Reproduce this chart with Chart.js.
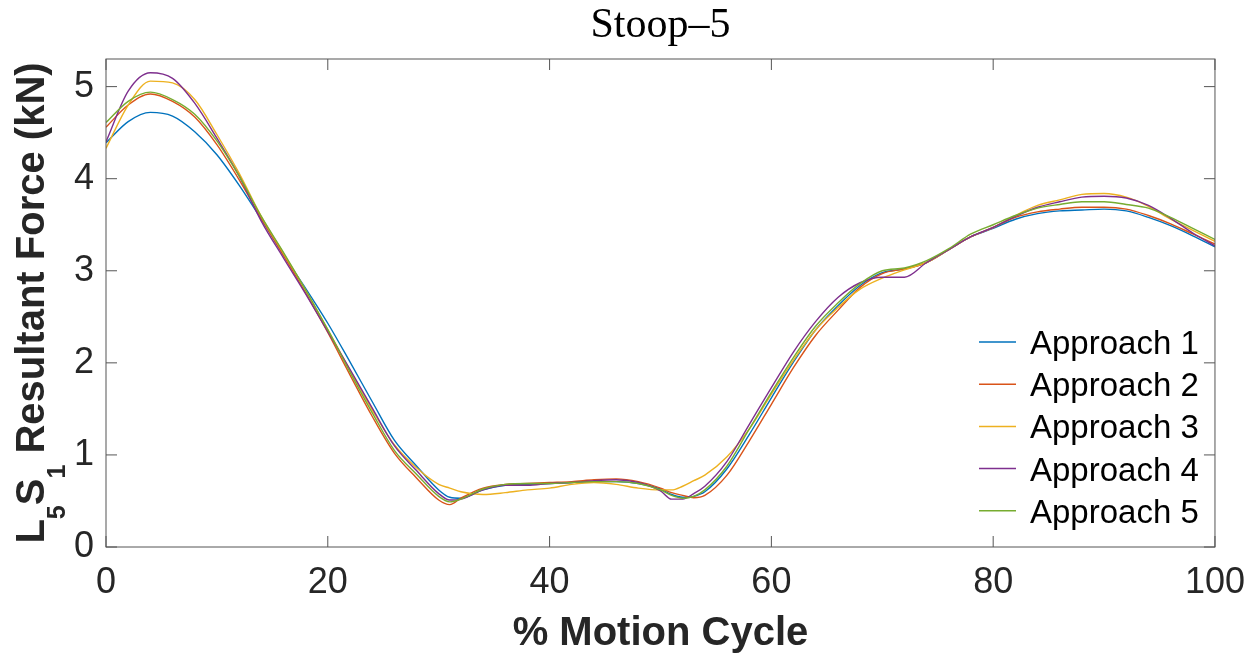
<!DOCTYPE html>
<html>
<head>
<meta charset="utf-8">
<script src="https://cdn.jsdelivr.net/npm/chart.js@4.4.1/dist/chart.umd.min.js"></script>
<style>
  body { margin: 0; background: #fff; }
  canvas { display: block; }
</style>
</head>
<body>
<canvas id="loadChart" width="1259" height="658"></canvas>
<script>
// % of motion cycle where each approach was sampled
const cycle = [0, 2, 4, 6, 8, 10, 12, 14, 16, 18, 20, 22, 24, 26, 28, 30, 31, 32, 34, 36, 38, 40, 42, 44, 46, 48,
    50, 51, 52, 53, 54, 56, 58, 60, 62, 64, 66, 68, 70, 72, 74, 76, 78, 80, 82, 84, 86, 88, 90, 92, 94, 96, 98, 100];

// L5S1 resultant force (kN)
const approach1 = [4.39, 4.62, 4.72, 4.68, 4.51, 4.26, 3.93, 3.56, 3.17, 2.81, 2.43, 2.01, 1.58, 1.16, 0.88, 0.62, 0.54, 0.53, 0.62, 0.67, 0.68, 0.69, 0.70, 0.71, 0.71, 0.69,
    0.63, 0.57, 0.54, 0.55, 0.60, 0.85, 1.22, 1.62, 2.01, 2.36, 2.62, 2.84, 2.98, 3.02, 3.09, 3.23, 3.37, 3.46, 3.56, 3.62, 3.65, 3.66, 3.67, 3.65, 3.58, 3.49, 3.38, 3.26];
const approach2 = [4.56, 4.80, 4.92, 4.84, 4.67, 4.37, 3.99, 3.57, 3.17, 2.76, 2.33, 1.87, 1.42, 1.02, 0.75, 0.51, 0.46, 0.53, 0.64, 0.68, 0.69, 0.70, 0.71, 0.73, 0.74, 0.71,
    0.64, 0.59, 0.56, 0.535, 0.56, 0.78, 1.15, 1.55, 1.95, 2.30, 2.57, 2.82, 2.97, 3.02, 3.09, 3.23, 3.37, 3.47, 3.58, 3.64, 3.67, 3.69, 3.69, 3.67, 3.60, 3.51, 3.40, 3.29];
const approach3 = [4.33, 4.80, 5.06, 5.04, 4.86, 4.48, 4.06, 3.59, 3.19, 2.79, 2.36, 1.92, 1.49, 1.11, 0.86, 0.68, 0.64, 0.60, 0.57, 0.59, 0.62, 0.64, 0.68, 0.70, 0.68, 0.64,
    0.62, 0.62, 0.66, 0.72, 0.78, 0.98, 1.28, 1.66, 2.03, 2.36, 2.60, 2.80, 2.92, 3.01, 3.09, 3.23, 3.37, 3.47, 3.60, 3.71, 3.77, 3.83, 3.84, 3.80, 3.70, 3.56, 3.44, 3.32];
const approach4 = [4.40, 4.95, 5.15, 5.09, 4.82, 4.44, 4.03, 3.54, 3.14, 2.75, 2.34, 1.93, 1.51, 1.10, 0.83, 0.58, 0.51, 0.52, 0.62, 0.67, 0.67, 0.69, 0.70, 0.72, 0.73, 0.70,
    0.61, 0.52, 0.52, 0.58, 0.66, 0.93, 1.33, 1.73, 2.12, 2.45, 2.71, 2.87, 2.93, 2.93, 3.09, 3.23, 3.37, 3.47, 3.59, 3.69, 3.75, 3.80, 3.81, 3.79, 3.71, 3.57, 3.41, 3.27];
const approach5 = [4.61, 4.84, 4.94, 4.86, 4.70, 4.41, 4.03, 3.59, 3.20, 2.79, 2.36, 1.90, 1.46, 1.05, 0.79, 0.55, 0.49, 0.52, 0.63, 0.68, 0.69, 0.69, 0.70, 0.71, 0.71, 0.69,
    0.62, 0.56, 0.53, 0.55, 0.62, 0.88, 1.28, 1.68, 2.06, 2.40, 2.65, 2.86, 3.00, 3.03, 3.11, 3.24, 3.40, 3.50, 3.60, 3.68, 3.72, 3.75, 3.75, 3.72, 3.68, 3.58, 3.46, 3.34];

const seriesNames = ['Approach 1', 'Approach 2', 'Approach 3', 'Approach 4', 'Approach 5'];
const seriesValues = [approach1, approach2, approach3, approach4, approach5];
const seriesColors = ['#0072BD', '#D95319', '#EDB120', '#7E2F8E', '#77AC30'];

const xTicks = [0, 20, 40, 60, 80, 100];
const yTicks = [0, 1, 2, 3, 4, 5];

const SANS = "'Liberation Sans', Arial, Helvetica, sans-serif";
const SERIF = "'Liberation Serif', 'Times New Roman', serif";
const INK = '#262626';

const datasets = seriesNames.map((name, i) => ({
    label: name,
    data: cycle.map((x, k) => ({ x: x, y: seriesValues[i][k] })),
    borderColor: seriesColors[i],
    borderWidth: 1.4,
    pointRadius: 0,
    fill: false,
    cubicInterpolationMode: 'monotone',
    order: seriesNames.length - i   // later approaches drawn on top
}));

// box around the axes, inward ticks, titles and the legend
const decorations = {
    id: 'decorations',
    afterDatasetsDraw(chart) {
        const ctx = chart.ctx;
        const a = chart.chartArea;
        const xs = chart.scales.x;
        const ys = chart.scales.y;
        const tick = 11;

        ctx.save();
        ctx.strokeStyle = '#555';
        ctx.lineWidth = 1;
        ctx.strokeRect(a.left, a.top, a.right - a.left, a.bottom - a.top);
        ctx.beginPath();
        xTicks.forEach(v => {
            const px = xs.getPixelForValue(v);
            ctx.moveTo(px, a.bottom); ctx.lineTo(px, a.bottom - tick);
            ctx.moveTo(px, a.top); ctx.lineTo(px, a.top + tick);
        });
        yTicks.forEach(v => {
            const py = ys.getPixelForValue(v);
            ctx.moveTo(a.left, py); ctx.lineTo(a.left + tick, py);
            ctx.moveTo(a.right, py); ctx.lineTo(a.right - tick, py);
        });
        ctx.stroke();

        // legend, inside the lower right corner
        ctx.font = '33px ' + SANS;
        ctx.textAlign = 'left';
        ctx.textBaseline = 'alphabetic';
        chart.data.datasets.forEach((ds, i) => {
            const rowY = 342 + i * 42.2;
            ctx.strokeStyle = ds.borderColor;
            ctx.lineWidth = 1.5;
            ctx.beginPath();
            ctx.moveTo(979, rowY);
            ctx.lineTo(1016, rowY);
            ctx.stroke();
            ctx.fillStyle = '#000';
            ctx.fillText(ds.label, 1030, rowY + 12);
        });

        // title
        const cx = (a.left + a.right) / 2;
        ctx.fillStyle = '#000';
        ctx.font = '42px ' + SERIF;
        ctx.textAlign = 'center';
        ctx.fillText('Stoop\u20135', cx, 37);

        // x axis title
        ctx.fillStyle = INK;
        ctx.font = 'bold 40px ' + SANS;
        ctx.fillText('% Motion Cycle', cx, 645);

        // y axis title with subscripts
        const parts = [
            { t: 'L', sub: false }, { t: '5', sub: true },
            { t: 'S', sub: false }, { t: '1', sub: true },
            { t: ' Resultant Force (kN)', sub: false }
        ];
        const mainFont = 'bold 40px ' + SANS;
        const subFont = 'bold 25px ' + SANS;
        let total = 0;
        parts.forEach(p => {
            ctx.font = p.sub ? subFont : mainFont;
            p.w = ctx.measureText(p.t).width;
            total += p.w;
        });
        const cy = (a.top + a.bottom) / 2;
        ctx.translate(44, cy);
        ctx.rotate(-Math.PI / 2);
        ctx.textAlign = 'left';
        let pos = -total / 2;
        parts.forEach(p => {
            ctx.font = p.sub ? subFont : mainFont;
            ctx.fillText(p.t, pos, p.sub ? 21 : 0);
            pos += p.w;
        });
        ctx.restore();
    }
};

new Chart(document.getElementById('loadChart').getContext('2d'), {
    type: 'line',
    data: { datasets: datasets },
    options: {
        responsive: false,
        animation: false,
        layout: { padding: { left: 0, top: 59, right: 43, bottom: 0 } },
        plugins: {
            legend: { display: false },
            title: { display: false },
            tooltip: { enabled: false }
        },
        scales: {
            x: {
                type: 'linear',
                min: 0,
                max: 100,
                afterBuildTicks: s => { s.ticks = xTicks.map(v => ({ value: v })); },
                afterFit: s => { s.height = 111; },
                grid: { display: false, drawTicks: false },
                border: { display: false },
                ticks: { color: INK, font: { family: SANS, size: 36 }, padding: 14, maxRotation: 0 }
            },
            y: {
                min: 0,
                max: 5.3,
                afterBuildTicks: s => { s.ticks = yTicks.map(v => ({ value: v })); },
                afterFit: s => { s.width = 106; },
                grid: { display: false, drawTicks: false },
                border: { display: false },
                ticks: { color: INK, font: { family: SANS, size: 36 }, padding: 12 }
            }
        }
    },
    plugins: [decorations]
});
</script>
</body>
</html>
